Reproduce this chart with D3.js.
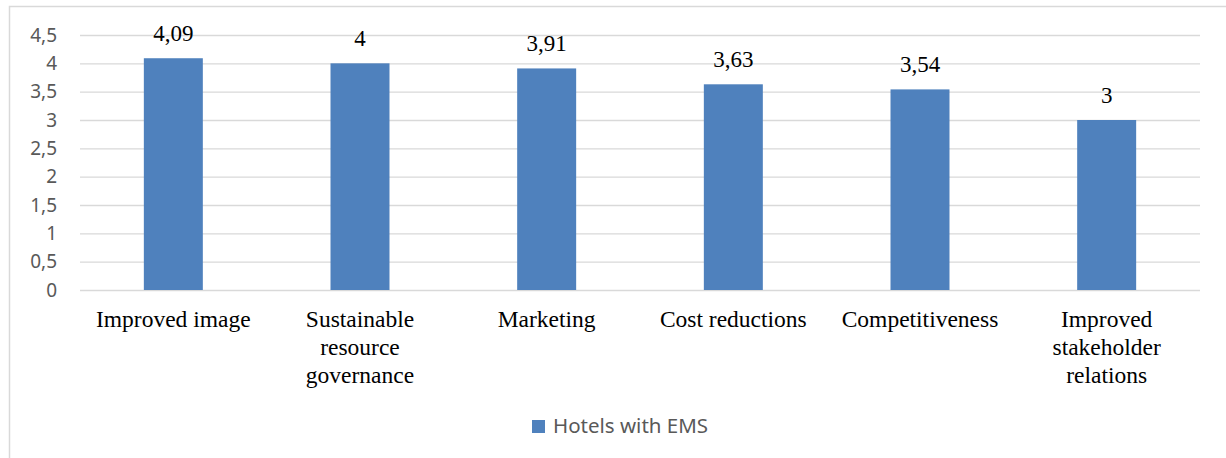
<!DOCTYPE html>
<html><head><meta charset="utf-8">
<script src="https://cdn.jsdelivr.net/npm/d3@7"></script>
<style>body{margin:0;background:#fff}svg{display:block}</style>
</head><body><svg id="c" width="1226" height="458"></svg>
<script>
const categories = ["Improved image", "Sustainable resource governance", "Marketing", "Cost reductions", "Competitiveness", "Improved stakeholder relations"];
const categoryLines = [["Improved image"], ["Sustainable", "resource", "governance"], ["Marketing"], ["Cost reductions"], ["Competitiveness"], ["Improved", "stakeholder", "relations"]];
const values = [4.09, 4, 3.91, 3.63, 3.54, 3];
const yTicks = [0, 0.5, 1, 1.5, 2, 2.5, 3, 3.5, 4, 4.5];
const seriesName = "Hotels with EMS";

const svg = d3.select("#c");
const fmt = v => String(v).replace(".", ",");
svg.append("rect").attr("x", 9.5).attr("y", 6.5).attr("width", 1300).attr("height", 500)
  .attr("fill", "none").attr("stroke", "#d9d9d9").attr("stroke-width", 1.5);

const x = d3.scaleBand().domain(categories).range([80, 1200]).paddingInner(0.684).paddingOuter(0.342);
const y = d3.scaleLinear().domain([0, 4.5]).range([290, 35]);

const gy = svg.append("g").attr("transform", "translate(80,0)")
  .call(d3.axisLeft(y).tickValues(yTicks).tickSize(-1120).tickFormat(fmt).tickPadding(23));
gy.select(".domain").remove();
gy.selectAll("line").attr("stroke", "#d9d9d9").attr("stroke-width", 1.3);
gy.selectAll("text").attr("fill", "#595959").style("font-family", "'Noto Sans', sans-serif").style("font-size", "19px");

svg.selectAll("rect.bar").data(values).join("rect").attr("class", "bar")
  .attr("x", (d, i) => x(categories[i])).attr("width", x.bandwidth())
  .attr("y", d => y(d)).attr("height", d => y(0) - y(d)).attr("fill", "#4f81bd");

svg.selectAll("text.val").data(values).join("text").attr("class", "val")
  .attr("x", (d, i) => x(categories[i]) + x.bandwidth() / 2).attr("y", d => y(d) - 17)
  .attr("text-anchor", "middle").style("font-family", "'Liberation Serif', serif").style("font-size", "23px")
  .attr("fill", "#000").text(fmt);

const cat = svg.selectAll("text.cat").data(categories).join("text").attr("class", "cat")
  .attr("text-anchor", "middle").style("font-family", "'Liberation Serif', serif").style("font-size", "23.5px").attr("fill", "#000");
cat.each(function(d, i) {
  const t = d3.select(this);
  categoryLines[i].forEach((ln, j) => {
    t.append("tspan").attr("x", x(d) + x.bandwidth() / 2).attr("y", 327 + j * 28).text(ln);
  });
});

const lg = svg.append("g");
lg.append("rect").attr("x", 532).attr("y", 420).attr("width", 13).attr("height", 13).attr("fill", "#4f81bd");
lg.append("text").attr("x", 553).attr("y", 432.5).attr("fill", "#595959")
  .style("font-family", "'Noto Sans', sans-serif").style("font-size", "20.5px").text(seriesName);
</script></body></html>
